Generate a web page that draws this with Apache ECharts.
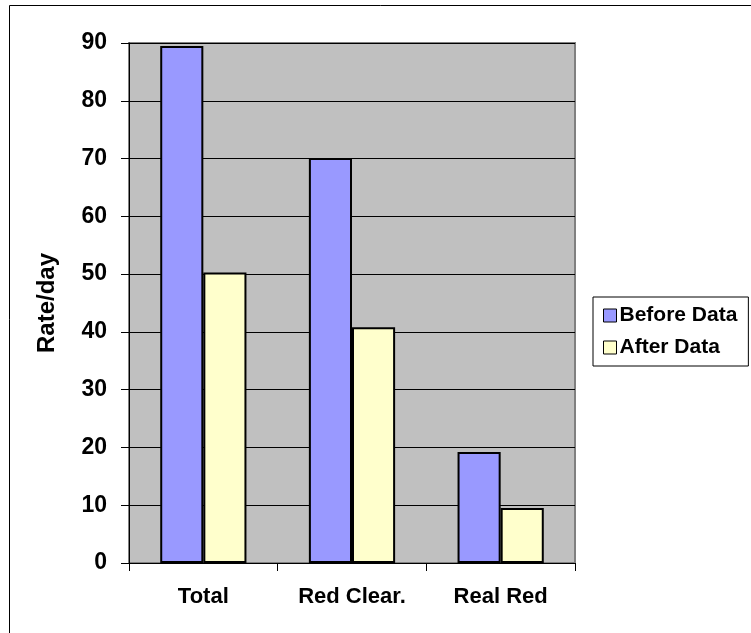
<!DOCTYPE html>
<html><head><meta charset="utf-8">
<script src="https://cdn.jsdelivr.net/npm/echarts@6/dist/echarts.min.js"></script>
<style>html,body{margin:0;padding:0;background:#fff}#c{width:751px;height:633px}</style>
</head><body><div id="c"></div>
<script>
const categories = ["Total", "Red Clear.", "Real Red"];
const beforeData = [89.5, 70.1, 19.2];
const afterData = [50.3, 40.8, 9.5];
const yTicks = [0, 10, 20, 30, 40, 50, 60, 70, 80, 90];

const chart = echarts.init(document.getElementById('c'));
const font = 'Arial, "Liberation Sans", sans-serif';
chart.setOption({
  animation: false,
  backgroundColor: '#fff',
  graphic: [
    {type: 'rect', shape: {x: 9.5, y: 5.5, width: 800, height: 700}, style: {fill: 'none', stroke: '#000', lineWidth: 1}, z: -1},
    {type: 'rect', shape: {x: 129, y: 43, width: 446, height: 520}, style: {fill: '#C0C0C0', stroke: '#808080', lineWidth: 2}, z: -1}
  ],
  grid: {left: 129, top: 43, width: 446, height: 520, show: false},
  legend: {
    left: 593, top: 297, orient: 'vertical', itemWidth: 13, itemHeight: 13, itemGap: 11,
    padding: [8, 11, 8, 10], borderColor: '#000', borderWidth: 1, backgroundColor: '#fff',
    icon: 'rect',
    itemStyle: {borderColor: '#000', borderWidth: 1},
    textStyle: {fontFamily: font, fontWeight: 'bold', fontSize: 21, color: '#000', padding: [0, 0, 0, -2]},
    data: ['Before Data', 'After Data']
  },
  xAxis: {
    type: 'category', data: categories,
    axisLine: {lineStyle: {color: '#000', width: 1}},
    axisTick: {show: true, length: 8, lineStyle: {color: '#000'}},
    axisLabel: {fontFamily: font, fontWeight: 'bold', fontSize: 22, color: '#000', margin: 23}
  },
  yAxis: {
    type: 'value', min: 0, max: 90, interval: 10,
    name: 'Rate/day', nameLocation: 'middle', nameGap: 70, nameRotate: 90,
    nameTextStyle: {fontFamily: font, fontWeight: 'bold', fontSize: 24, color: '#000'},
    axisLine: {show: true, lineStyle: {color: '#000'}},
    axisTick: {show: true, length: 8, lineStyle: {color: '#000'}},
    axisLabel: {fontFamily: font, fontWeight: 'bold', fontSize: 23, color: '#000', margin: 22,
      formatter: v => yTicks.includes(v) ? String(v) : ''},
    splitLine: {show: true, lineStyle: {color: '#000', width: 1}}
  },
  series: [
    {name: 'Before Data', type: 'bar', data: beforeData, barGap: '0%', barCategoryGap: '42%',
      itemStyle: {color: '#9999FF', borderColor: '#000', borderWidth: 2}},
    {name: 'After Data', type: 'bar', data: afterData,
      itemStyle: {color: '#FFFFCC', borderColor: '#000', borderWidth: 2}}
  ]
});
</script></body></html>
